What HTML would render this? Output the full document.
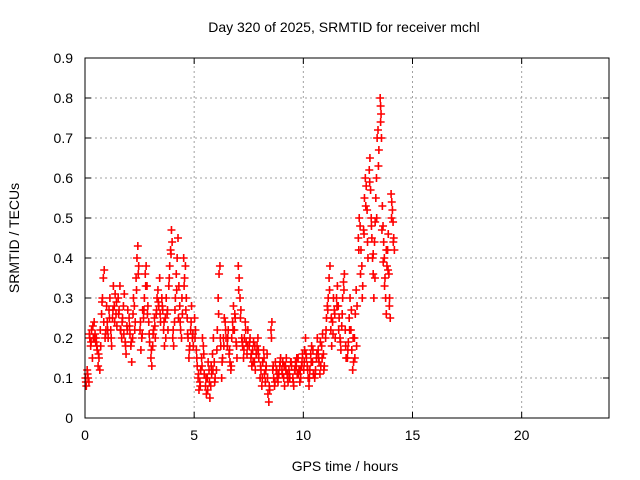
<!DOCTYPE html>
<html><head><meta charset="utf-8">
<style>
body{margin:0;background:#fff;}
svg{display:block;font-family:"Liberation Sans",sans-serif;font-size:14px;}
</style></head>
<body>
<svg id="chart" width="640" height="480">
<rect x="0" y="0" width="640" height="480" fill="#fff"/>
<text x="344" y="32" text-anchor="middle">Day 320 of 2025, SRMTID for receiver mchl</text>
<text x="345" y="471" text-anchor="middle">GPS time / hours</text>
<text transform="translate(19,238) rotate(-90)" text-anchor="middle">SRMTID / TECUs</text>
<g id="grid"></g><g id="ticks"></g><g id="marks"></g>
<rect x="85" y="58" width="524" height="360" fill="none" stroke="#000" stroke-width="1"/>
</svg>
<script>
const xTicks=[0,5,10,15,20];
const yTicks=[0,0.1,0.2,0.3,0.4,0.5,0.6,0.7,0.8,0.9];
const yTickLabels=["0","0.1","0.2","0.3","0.4","0.5","0.6","0.7","0.8","0.9"];
const times=[
0.02,0.06,0.10,0.14,0.18,0.22,0.26,0.30,0.34,0.38,0.42,0.46,0.49,
0.52,0.56,0.60,0.64,0.68,0.72,0.76,0.80,0.84,0.88,0.92,0.96,0.99,
1.02,1.06,1.10,1.14,1.18,1.22,1.26,1.30,1.34,1.38,1.42,1.46,
1.52,1.56,1.60,1.64,1.68,1.72,1.76,1.80,1.84,1.88,1.92,1.96,
2.02,2.06,2.10,2.14,2.18,2.22,2.26,2.30,2.34,2.38,2.42,2.46,
2.52,2.56,2.60,2.64,2.68,2.72,2.76,2.80,2.84,2.88,2.92,2.96,
3.02,3.06,3.10,3.14,3.18,3.22,3.26,3.30,3.34,3.38,3.42,3.46,
3.52,3.56,3.60,3.64,3.68,3.72,3.76,3.80,3.84,3.88,3.92,3.96,3.99,
4.02,4.06,4.10,4.14,4.18,4.22,4.26,4.30,4.34,4.38,4.42,4.46,
4.52,4.56,4.60,4.64,4.68,4.72,4.76,4.80,4.84,4.88,4.92,4.96,
5.02,5.06,5.10,5.14,5.18,5.22,5.26,5.30,5.34,5.38,5.42,5.46,
5.52,5.56,5.60,5.64,5.68,5.72,5.76,5.80,5.84,5.88,5.92,5.96,
6.02,6.06,6.10,6.14,6.18,6.22,6.26,6.30,6.34,6.38,6.42,6.46,
6.52,6.56,6.60,6.64,6.68,6.72,6.76,6.80,6.84,6.88,6.92,6.96,
7.02,7.06,7.10,7.14,7.18,7.22,7.26,7.30,7.34,7.38,7.42,7.46,
7.52,7.56,7.60,7.64,7.68,7.72,7.76,7.80,7.84,7.88,7.92,7.96,
8.02,8.06,8.10,8.14,8.18,8.22,8.26,8.30,8.34,8.38,8.42,8.46,
8.52,8.56,8.60,8.64,8.68,8.72,8.76,8.80,8.84,8.88,8.92,8.96,
9.02,9.06,9.10,9.14,9.18,9.22,9.26,9.30,9.34,9.38,9.42,9.46,
9.52,9.56,9.60,9.64,9.68,9.72,9.76,9.80,9.84,9.88,9.92,9.96,
10.02,10.06,10.10,10.14,10.18,10.22,10.26,10.30,10.34,10.38,10.42,10.46,
10.52,10.56,10.60,10.64,10.68,10.72,10.76,10.80,10.84,10.88,10.92,10.96,
11.02,11.06,11.10,11.14,11.18,11.22,11.26,11.30,11.34,11.38,11.42,11.46,
11.52,11.56,11.60,11.64,11.68,11.72,11.76,11.80,11.84,11.88,11.92,11.96,
12.02,12.06,12.10,12.14,12.18,12.22,12.26,12.30,12.34,12.38,12.42,12.46,
12.52,12.56,12.60,12.64,12.68,12.72,12.76,12.80,12.84,12.88,12.92,12.96,
13.02,13.05,13.08,13.11,13.14,13.17,13.20,13.23,13.26,13.29,13.32,13.35,13.38,13.42,13.46,
13.52,13.54,13.56,13.58,13.62,13.65,13.68,13.71,13.74,13.77,13.80,13.83,13.86,13.89,13.92,13.95,13.98,
14.02,14.05,14.08,14.11,14.14,14.17
];
const values=[
0.10,0.08,0.12,0.10,0.09,0.20,0.18,0.22,0.15,0.20,0.24,0.21,0.19,
0.20,0.17,0.13,0.15,0.12,0.18,0.26,0.30,0.35,0.37,0.20,0.22,0.28,
0.24,0.20,0.27,0.30,0.22,0.18,0.25,0.33,0.28,0.31,0.26,0.23,
0.30,0.27,0.33,0.22,0.20,0.25,0.28,0.31,0.19,0.16,0.23,0.27,
0.25,0.21,0.18,0.14,0.20,0.30,0.28,0.24,0.35,0.40,0.43,0.38,
0.22,0.17,0.20,0.27,0.25,0.30,0.36,0.38,0.33,0.28,0.24,0.19,
0.15,0.13,0.18,0.22,0.25,0.20,0.26,0.30,0.32,0.28,0.35,0.24,
0.30,0.27,0.22,0.18,0.25,0.30,0.26,0.22,0.33,0.38,0.42,0.47,0.44,
0.20,0.18,0.24,0.30,0.36,0.40,0.45,0.33,0.28,0.22,0.20,0.26,
0.40,0.35,0.38,0.30,0.25,0.20,0.15,0.18,0.22,0.28,0.20,0.18,
0.25,0.22,0.17,0.13,0.10,0.07,0.09,0.12,0.15,0.20,0.18,0.11,
0.08,0.06,0.10,0.14,0.12,0.05,0.08,0.11,0.16,0.20,0.14,0.10,
0.12,0.22,0.30,0.36,0.38,0.18,0.10,0.15,0.20,0.25,0.24,0.20,
0.18,0.22,0.16,0.14,0.12,0.20,0.24,0.28,0.22,0.25,0.19,0.15,
0.38,0.35,0.30,0.27,0.20,0.18,0.15,0.20,0.24,0.19,0.16,0.22,
0.18,0.20,0.15,0.13,0.17,0.19,0.14,0.12,0.16,0.18,0.20,0.15,
0.10,0.12,0.08,0.14,0.17,0.11,0.09,0.13,0.16,0.06,0.04,0.07,
0.22,0.24,0.12,0.10,0.08,0.14,0.12,0.10,0.09,0.11,0.13,0.15,
0.12,0.14,0.10,0.08,0.13,0.15,0.11,0.09,0.12,0.10,0.14,0.13,
0.10,0.08,0.12,0.14,0.13,0.11,0.15,0.12,0.09,0.10,0.13,0.16,
0.12,0.17,0.20,0.15,0.13,0.10,0.08,0.12,0.16,0.18,0.14,0.11,
0.10,0.12,0.15,0.20,0.17,0.14,0.11,0.13,0.18,0.21,0.16,0.13,
0.20,0.25,0.28,0.30,0.35,0.38,0.22,0.18,0.24,0.30,0.27,0.20,
0.30,0.33,0.28,0.25,0.20,0.17,0.23,0.30,0.34,0.36,0.22,0.15,
0.15,0.19,0.25,0.30,0.22,0.17,0.12,0.14,0.20,0.26,0.32,0.28,
0.45,0.50,0.48,0.42,0.38,0.33,0.47,0.55,0.60,0.58,0.52,0.40,
0.62,0.65,0.57,0.50,0.45,0.40,0.36,0.30,0.44,0.49,0.55,0.60,0.70,0.72,0.67,
0.80,0.78,0.76,0.70,0.53,0.48,0.44,0.40,0.35,0.30,0.26,0.38,0.42,0.46,0.36,0.30,0.25,
0.56,0.54,0.52,0.49,0.45,0.42
];
const times2=[
0.04,0.12,0.20,0.28,0.36,0.44,0.54,0.62,0.70,0.78,0.86,0.94,
1.04,1.12,1.20,1.28,1.36,1.44,1.54,1.62,1.70,1.78,1.86,1.94,
2.04,2.12,2.20,2.28,2.36,2.44,2.54,2.62,2.70,2.78,2.86,2.94,
3.04,3.12,3.20,3.28,3.36,3.44,3.54,3.62,3.70,3.78,3.86,3.94,
4.04,4.12,4.20,4.28,4.36,4.44,4.54,4.62,4.70,4.78,4.86,4.94,
5.04,5.12,5.20,5.28,5.36,5.44,5.54,5.62,5.70,5.78,5.86,5.94,
6.04,6.12,6.20,6.28,6.36,6.44,6.54,6.62,6.70,6.78,6.86,6.94,
7.04,7.12,7.20,7.28,7.36,7.44,7.54,7.62,7.70,7.78,7.86,7.94,
8.04,8.12,8.20,8.28,8.36,8.44,8.54,8.62,8.70,8.78,8.86,8.94,
9.04,9.12,9.20,9.28,9.36,9.44,9.54,9.62,9.70,9.78,9.86,9.94,
10.04,10.12,10.20,10.28,10.36,10.44,10.54,10.62,10.70,10.78,10.86,10.94,
11.04,11.12,11.20,11.28,11.36,11.44,11.54,11.62,11.70,11.78,11.86,11.94,
12.04,12.12,12.20,12.28,12.36,12.44,12.54,12.62,12.70,12.78,12.86,12.94,
13.04,13.12,13.20,13.28,13.36,13.44,13.54,13.60,13.66,13.72,13.80,13.88,13.94,14.04,14.12
];
const values2=[
0.09,0.11,0.21,0.19,0.23,0.20,0.18,0.16,0.22,0.29,0.24,0.21,
0.22,0.25,0.20,0.27,0.24,0.29,0.26,0.22,0.24,0.21,0.18,0.22,
0.23,0.19,0.26,0.22,0.32,0.36,0.24,0.21,0.27,0.33,0.26,0.21,
0.17,0.21,0.23,0.27,0.29,0.26,0.28,0.24,0.20,0.27,0.35,0.41,
0.22,0.27,0.32,0.25,0.24,0.30,0.33,0.27,0.21,0.17,0.24,0.21,
0.20,0.15,0.11,0.08,0.13,0.16,0.10,0.07,0.09,0.13,0.12,0.09,
0.17,0.26,0.20,0.14,0.18,0.22,0.20,0.17,0.13,0.22,0.26,0.18,
0.32,0.25,0.19,0.17,0.22,0.18,0.19,0.16,0.14,0.18,0.16,0.17,
0.13,0.10,0.15,0.12,0.10,0.08,0.20,0.13,0.09,0.12,0.11,0.14,
0.11,0.13,0.12,0.10,0.11,0.14,0.09,0.12,0.15,0.11,0.12,0.14,
0.14,0.16,0.12,0.10,0.14,0.17,0.11,0.16,0.15,0.19,0.15,0.12,
0.22,0.27,0.32,0.25,0.21,0.26,0.28,0.22,0.19,0.26,0.32,0.18,
0.17,0.22,0.27,0.20,0.15,0.18,0.42,0.36,0.30,0.46,0.53,0.44,
0.59,0.48,0.41,0.35,0.50,0.63,0.74,0.47,0.39,0.33,0.42,0.37,0.28,0.50,0.44
];
const NS="http://www.w3.org/2000/svg";
const X0=85,X1=609,Y0=418,Y1=58,XMAX=24,YMAX=0.9;
function xs(v){return X0+(X1-X0)*v/XMAX;}
function ys(v){return Y0-(Y0-Y1)*v/YMAX;}
function mk(tag,attrs,parent){const e=document.createElementNS(NS,tag);for(const k in attrs)e.setAttribute(k,attrs[k]);parent.appendChild(e);return e;}
const grid=document.getElementById('grid'),ticks=document.getElementById('ticks'),marks=document.getElementById('marks');
xTicks.forEach(t=>{
  const x=xs(t);
  if(t>0){const g=mk('line',{x1:x,x2:x,y1:Y0,y2:Y1,stroke:'#a0a0a0','stroke-dasharray':'2,3'},grid);
  
  }
  mk('line',{x1:x,x2:x,y1:Y0,y2:Y0-6,stroke:'#000'},ticks);
  mk('line',{x1:x,x2:x,y1:Y1,y2:Y1+6,stroke:'#000'},ticks);
  const l=mk('text',{x:x,y:Y0+22,'text-anchor':'middle'},ticks);l.textContent=t;
  
  
});
yTicks.forEach((t,i)=>{
  const y=ys(t);
  if(t>0&&t<YMAX){const g=mk('line',{x1:X0,x2:X1,y1:y,y2:y,stroke:'#a0a0a0','stroke-dasharray':'2,3'},grid);
  
  }
  mk('line',{x1:X0,x2:X0+6,y1:y,y2:y,stroke:'#000'},ticks);
  mk('line',{x1:X1,x2:X1-6,y1:y,y2:y,stroke:'#000'},ticks);
  const l=mk('text',{x:X0-12,y:y+5,'text-anchor':'end'},ticks);l.textContent=yTickLabels[i];
  
  
});
function plot(ts,vs){
  ts.forEach((t,i)=>{
    const x=xs(t),y=ys(vs[i]);
    const p=mk('path',{d:`M${x-4},${y}H${x+4}M${x},${y-4}V${y+4}`,stroke:'#ff0000','stroke-width':1.6,fill:'none'},marks);
    
    
  });
}
plot(times,values);
plot(times2,values2);
</script>
</body></html>
